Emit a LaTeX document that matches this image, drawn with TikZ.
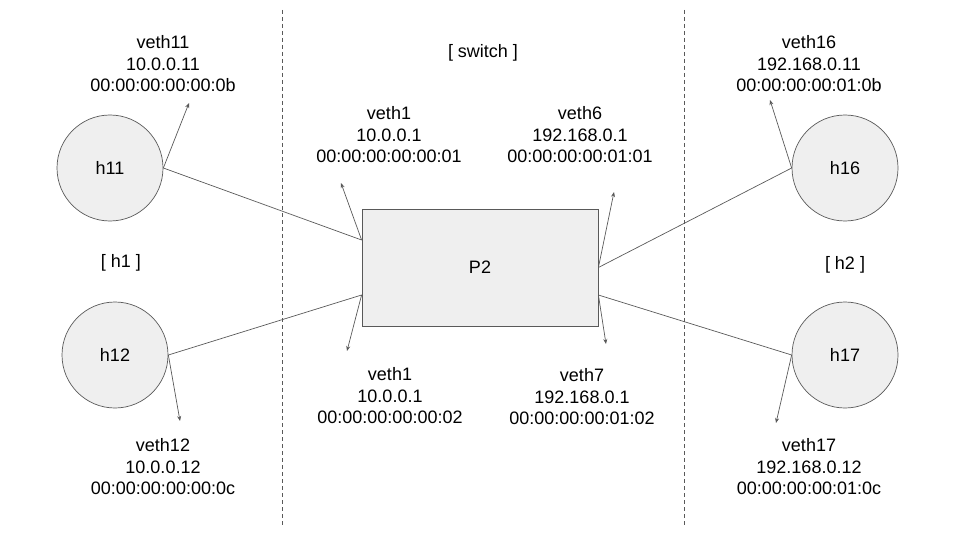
\documentclass[tikz,border=0pt]{standalone}
\usepackage{fontspec}
\setmainfont{Liberation Sans}
\usetikzlibrary{arrows.meta}
\definecolor{lc}{HTML}{595959}
\definecolor{fc}{HTML}{EFEFEF}
\tikzset{
  host/.style={circle, draw=lc, fill=fc, line width=0.7pt, minimum size=106pt, inner sep=0pt, font=\fontsize{18}{21.5}\selectfont},
  swbox/.style={rectangle, draw=lc, fill=fc, line width=0.8pt, minimum width=236pt, minimum height=117pt, inner sep=0pt, font=\fontsize{18}{21.5}\selectfont},
  lbl/.style={align=center, inner sep=0pt, font=\fontsize{18}{21.5}\selectfont},
  link/.style={draw=lc, line width=0.7pt},
  ptr/.style={draw=lc, line width=0.7pt, -{Stealth[length=5pt,width=4pt]}},
  sep/.style={draw=lc, line width=0.6pt, dash pattern=on 4pt off 3pt}
}
\begin{document}
\begin{tikzpicture}[x=1pt,y=-1pt]
\useasboundingbox (0,0) rectangle (960,540);
% separators
\coordinate (s1a) at (282,10); \coordinate (s1b) at (282,525);
\coordinate (s2a) at (684,10); \coordinate (s2b) at (684,525);
\draw[sep] (s1a) -- (s1b);
\draw[sep] (s2a) -- (s2b);
% hosts and switch
\node[host] (h11) at (110,168) {h11};
\node[host] (h12) at (115,355) {h12};
\node[host] (h16) at (845,168) {h16};
\node[host] (h17) at (845,355) {h17};
\node[swbox] (P2) at (480,267.5) {P2};
% group labels
\node[lbl] (g1) at (121,263) {[ h1 ]};
\node[lbl] (g2) at (845,265) {[ h2 ]};
\node[lbl] (gs) at (483,53) {[ switch ]};
% interface labels
\node[lbl] (l11) at (163,64) {veth11\\10.0.0.11\\00:00:00:00:00:0b};
\node[lbl] (l12) at (163,467) {veth12\\10.0.0.12\\00:00:00:00:00:0c};
\node[lbl] (l1a) at (389,135) {veth1\\10.0.0.1\\00:00:00:00:00:01};
\node[lbl] (l6) at (580,135) {veth6\\192.168.0.1\\00:00:00:00:01:01};
\node[lbl] (l1b) at (390,396) {veth1\\10.0.0.1\\00:00:00:00:00:02};
\node[lbl] (l7) at (582,397) {veth7\\192.168.0.1\\00:00:00:00:01:02};
\node[lbl] (l16) at (809,64) {veth16\\192.168.0.11\\00:00:00:00:01:0b};
\node[lbl] (l17) at (809,467) {veth17\\192.168.0.12\\00:00:00:00:01:0c};
% port points on P2 (yshift is in canvas direction: positive = up)
\coordinate (pa) at ([yshift=27.5pt]P2.west);
\coordinate (pb) at ([yshift=-27.5pt]P2.west);
\coordinate (pc) at (P2.east);
\coordinate (pd) at ([yshift=-27.5pt]P2.east);
% links
\draw[link] (h11.east) -- (pa);
\draw[link] (h12.east) -- (pb);
\draw[link] (h16.west) -- (pc);
\draw[link] (h17.west) -- (pd);
% pointer tips
\coordinate (t11) at (189,103);
\coordinate (t12) at (180,421);
\coordinate (ta) at (341,183);
\coordinate (tb) at (347,351);
\coordinate (tc) at (614,192);
\coordinate (td) at (606,344);
\coordinate (t16) at (770,100);
\coordinate (t17) at (776,423);
\draw[ptr] (h11.east) -- (t11);
\draw[ptr] (h12.east) -- (t12);
\draw[ptr] (pa) -- (ta);
\draw[ptr] (pb) -- (tb);
\draw[ptr] (pc) -- (tc);
\draw[ptr] (pd) -- (td);
\draw[ptr] (h16.west) -- (t16);
\draw[ptr] (h17.west) -- (t17);
\end{tikzpicture}
\end{document}
